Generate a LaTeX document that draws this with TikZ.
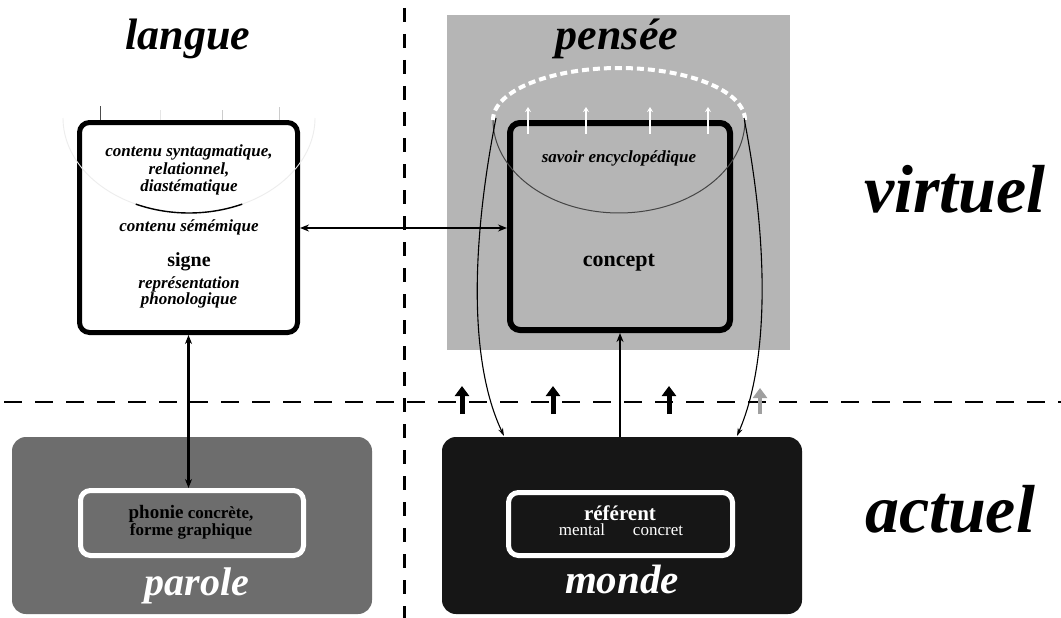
\documentclass[tikz,border=0pt]{standalone}
\usepackage{fontspec}
\setmainfont{Liberation Serif}
\usetikzlibrary{arrows.meta}
\definecolor{pgray}{HTML}{B5B5B5}
\definecolor{rgray}{HTML}{6D6D6D}
\definecolor{mblack}{HTML}{161616}
\definecolor{arcgray}{HTML}{444444}
\begin{document}
\begin{tikzpicture}[x=1pt,y=-1pt,
  title/.style={font=\fontsize{44}{44}\selectfont\bfseries\itshape, anchor=base, inner sep=0pt},
  huge/.style={font=\fontsize{68}{68}\selectfont\bfseries\itshape, anchor=base, inner sep=0pt},
  stxt/.style={font=\fontsize{17}{17}\selectfont\bfseries\itshape, anchor=base, inner sep=0pt},
  btxt/.style={font=\fontsize{20}{20}\selectfont\bfseries, anchor=base, inner sep=0pt},
  box/.style={draw, line width=5pt, rounded corners=10pt, inner sep=0pt},
  conn/.style={line width=1.8pt, {Stealth[length=9pt,width=7pt]}-{Stealth[length=9pt,width=7pt]}},
  curvearrow/.style={line width=1.1pt, -{Stealth[length=8pt,width=5pt]}},
  thickup/.style={line width=5pt, -{Triangle[length=10pt,width=14pt]}},
  whiteup/.style={white, line width=2pt, -{Stealth[length=5pt,width=6pt]}},
  ftick/.style={gray!40, line width=1pt},
  dashV/.style={line width=3pt, dash pattern=on 14pt off 12pt},
  dashH/.style={line width=2.5pt, dash pattern=on 18pt off 13pt}
]
\useasboundingbox (0,0) rectangle (1061,618);
\fill[white] (0,0) rectangle (1061,618);

% pensee background
\node[fill=pgray, minimum width=343pt, minimum height=335pt, inner sep=0pt] (pbg) at (618.5,182.5) {};
% concept box
\node[box, line width=6pt, fill=pgray, minimum width=220pt, minimum height=207pt] (concept) at (620,226.5) {};
% arc inside concept
\draw[arcgray, line width=1pt] plot[domain=0:180, samples=80] ({619+126*cos(\x)},{120+93*sin(\x)});
% white arrows
\coordinate (w1b) at (528,134); \coordinate (w1t) at (528,107);
\coordinate (w2b) at (586,134); \coordinate (w2t) at (586,107);
\coordinate (w3b) at (650,134); \coordinate (w3t) at (650,107);
\coordinate (w4b) at (708,134); \coordinate (w4t) at (708,107);
\draw[whiteup] (w1b) -- (w1t);
\draw[whiteup] (w2b) -- (w2t);
\draw[whiteup] (w3b) -- (w3t);
\draw[whiteup] (w4b) -- (w4t);
% white dashed arc
\draw[white, line width=4pt, dash pattern=on 7pt off 4pt] plot[domain=0:180, samples=80] ({619+126*cos(\x)},{120-52*sin(\x)});

\node[title] (pensee) at (617,50) {pensée};
\node[stxt] (savoir) at (619,162) {savoir encyclopédique};
\node[font=\fontsize{22}{22}\selectfont\bfseries, anchor=base, inner sep=0pt] (conc) at (619,266) {concept};

% signe box
\node[box, fill=white, minimum width=218pt, minimum height=210pt] (signe) at (188.5,227.5) {};
\draw[gray!14, line width=0.9pt] plot[domain=0:180, samples=80] ({189+126*cos(\x)},{118+95*sin(\x)});
\draw[black, line width=1.4pt] plot[domain=65:115, samples=30] ({189+126*cos(\x)},{118+95*sin(\x)});
\coordinate (f1b) at (100,120); \coordinate (f1t) at (100,106);
\coordinate (f2b) at (160,120); \coordinate (f2t) at (160,110);
\coordinate (f3b) at (222,120); \coordinate (f3t) at (222,110);
\coordinate (f4b) at (279,120); \coordinate (f4t) at (279,107);
\draw[ftick, black!70] (f1b) -- (f1t);
\draw[ftick, gray!20] (f2b) -- (f2t);
\draw[ftick] (f3b) -- (f3t);
\draw[ftick] (f4b) -- (f4t);

\node[title] (langue) at (188,50) {langue};
\node[stxt] (s1) at (189,157) {contenu syntagmatique,};
\node[stxt] (s2) at (189,174) {relationnel,};
\node[stxt] (s3) at (189,191) {diastématique};
\node[stxt] (s4) at (189,231) {contenu sémémique};
\node[btxt] (s5) at (189,266) {signe};
\node[stxt] (s6) at (189,288) {représentation};
\node[stxt] (s7) at (189,304) {phonologique};

% parole
\node[fill=rgray, rounded corners=14pt, minimum width=360pt, minimum height=177pt, inner sep=0pt] (parole) at (192,525.5) {};
\node[box, draw=white, fill=rgray, minimum width=223pt, minimum height=65pt] (phonie) at (192,523) {};
\node[font=\fontsize{17}{17}\selectfont\bfseries, anchor=base, inner sep=0pt] (p1) at (191,518) {{\fontsize{19}{19}\selectfont phonie} concrète,};
\node[font=\fontsize{17}{17}\selectfont\bfseries, anchor=base, inner sep=0pt] (p2) at (191,535) {forme graphique};
\node[title, white, font=\fontsize{40}{40}\selectfont\bfseries\itshape] (parolet) at (197,595) {parole};

% monde
\node[fill=mblack, rounded corners=14pt, minimum width=360pt, minimum height=177pt, inner sep=0pt] (monde) at (622,525.5) {};
\node[box, draw=white, fill=mblack, minimum width=224pt, minimum height=63pt] (referent) at (620.5,524) {};
\node[white, font=\fontsize{21}{21}\selectfont\bfseries, anchor=base, inner sep=0pt] (r1) at (620,520) {référent};
\node[white, font=\fontsize{17}{17}\selectfont, anchor=base, inner sep=0pt] (r2) at (582,535) {mental};
\node[white, font=\fontsize{17}{17}\selectfont, anchor=base, inner sep=0pt] (r3) at (658,535) {concret};
\node[title, white, font=\fontsize{41}{41}\selectfont\bfseries\itshape] (mondet) at (622,593) {monde};

% right labels
\node[huge] (virtuel) at (955,212) {virtuel};
\node[huge] (actuel) at (950,532) {actuel};

% dashed separators
\coordinate (vT) at (404,8); \coordinate (vB) at (404,618);
\coordinate (hL) at (4,402); \coordinate (hR) at (1061,402);
\draw[dashV] (vT) -- (vB);
\draw[dashH] (hL) -- (hR);

% connectors
\draw[conn] (signe.east |- 0,228) -- (concept.west |- 0,228);
\draw[conn, line width=2.2pt] (signe.south) -- (signe.south |- phonie.north);
\draw[line width=1.6pt, {Stealth[length=9pt,width=7pt]}-] (concept.south) -- (concept.south |- monde.north);
\coordinate (aL) at (496,118); \coordinate (aR) at (744,118);
\coordinate (mL) at (504,436); \coordinate (mR) at (737,436);
\draw[curvearrow] (aL) .. controls (472,240) and (468,360) .. (mL);
\draw[curvearrow] (aR) .. controls (768,240) and (770,360) .. (mR);

% thick up arrows on the boundary
\coordinate (u1b) at (462,414); \coordinate (u1t) at (462,386);
\coordinate (u2b) at (553,414); \coordinate (u2t) at (553,386);
\coordinate (u3b) at (669,414); \coordinate (u3t) at (669,386);
\coordinate (u4b) at (760,414); \coordinate (u4t) at (760,388);
\draw[thickup] (u1b) -- (u1t);
\draw[thickup] (u2b) -- (u2t);
\draw[thickup] (u3b) -- (u3t);
\draw[thickup, gray!75, line width=3.5pt] (u4b) -- (u4t);
\end{tikzpicture}
\end{document}
